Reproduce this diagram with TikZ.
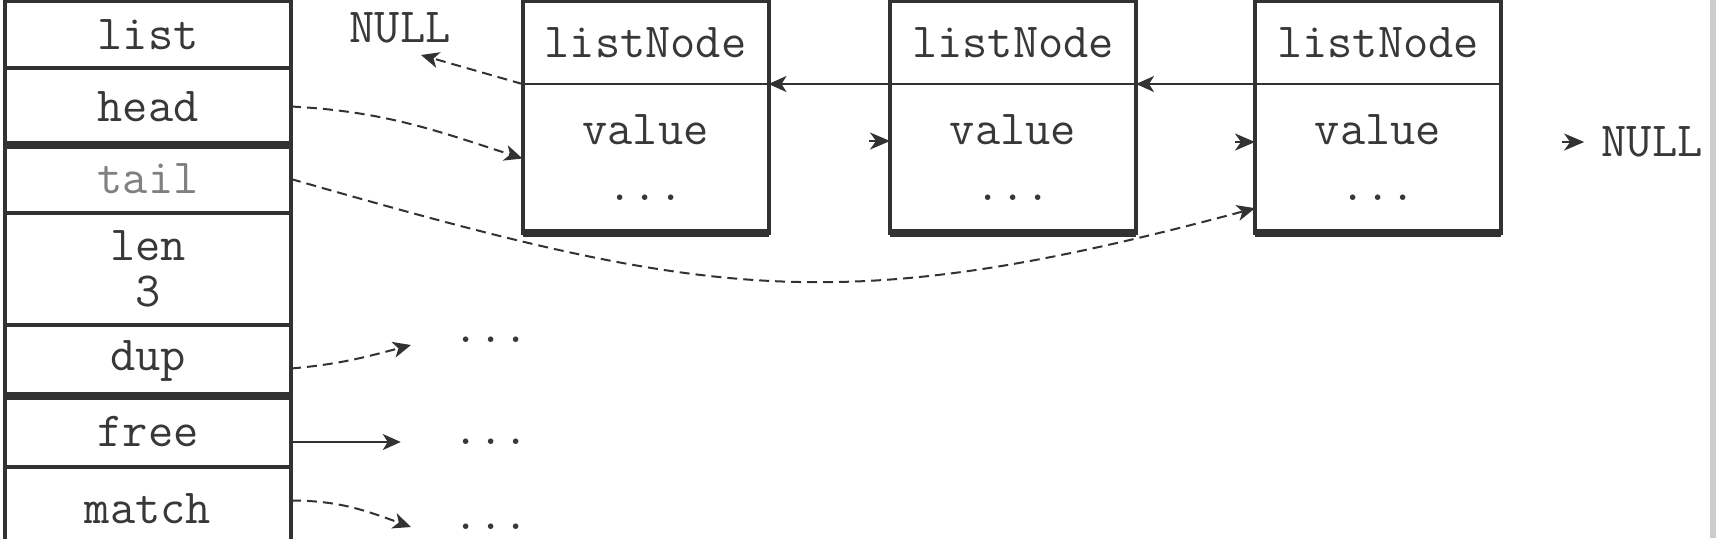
\documentclass[tikz,border=0pt]{standalone}
\usepackage{fontspec}
\usepackage{tikz}
\usetikzlibrary{arrows.meta,shapes,positioning}
\definecolor{ink}{HTML}{323232}
\definecolor{txtgray}{HTML}{383838}
\tikzstyle{row}=[draw=ink, line width=2pt, rectangle, minimum width=143pt, inner sep=0pt, outer sep=0pt, align=center]
\tikzstyle{hdr}=[rectangle, minimum width=123pt, minimum height=41.5pt, inner sep=0pt, outer sep=0pt]
\tikzstyle{bdy}=[rectangle, minimum width=123pt, minimum height=74.5pt, inner sep=0pt, outer sep=0pt]
\tikzstyle{txt}=[inner sep=2pt]
\tikzstyle{boxline}=[draw=ink, line width=2pt]
\tikzstyle{sepline}=[draw=ink, line width=1pt]
\tikzstyle{thickline}=[draw=ink, line width=4pt]
\tikzstyle{ptr}=[draw=ink, line width=1pt, dash pattern=on 5pt off 3pt, -{Stealth[length=9pt,width=8pt,inset=2.5pt]}]
\tikzstyle{prev}=[draw=ink, line width=1pt, -{Stealth[length=9pt,width=8pt,inset=2.5pt]}]
\tikzstyle{stub}=[draw=ink, line width=1pt, -{Stealth[length=10pt,width=8.5pt,inset=3pt]}]

\begin{document}
\begin{tikzpicture}[x=0.5pt, y=0.5pt,
	every node/.style={text=txtgray, font=\ttfamily\fontsize{24.5pt}{23pt}\selectfont}]
		\useasboundingbox (0,0) rectangle (1716,-538);
		\fill[white] (0,0) rectangle (1716,-538);
		\fill[gray!40] (1710,0) rectangle (1716,-538);
		
		% the list struct, one row per field
		\foreach \y/\h/\name/\lbl/\col in {
			34.5/33.5/list/list/txtgray, 106.5/38.5/head/head/txtgray,
			179/34/tail/tail/black!50, 269/56/len/{len\\3}/txtgray,
			360.5/35.5/dup/dup/txtgray, 431.5/35.5/free/free/txtgray,
			508.5/41.5/match/match/txtgray}
		\node[row, minimum height=\h pt, text=\col] (\name) at (148,-\y) {\lbl};
		\draw[thickline] (head.south west) -- (head.south east);
		\draw[thickline] (dup.south west) -- (dup.south east);
		
		% the three listNodes
		\foreach \x/\i in {645.5/1, 1013/2, 1378/3} {
			\node[hdr] (h\i) at (\x,-42.5) {listNode};
			\node[bdy, below=0pt of h\i] (b\i) {};
			\node[txt] (v\i) at (\x,-130) {value};
			\node[txt] (d\i) at (\x,-198) {...};
			\draw[boxline] (h\i.north west) rectangle (b\i.south east);
			\draw[sepline] (h\i.south west) -- (h\i.south east);
			\draw[thickline] (b\i.south west) -- (b\i.south east);
		}
		
		\node[txt] (nl) at (400,-28) {NULL};
		\node[txt] (nr) at (1652,-142) {NULL};
		\foreach \pos/\i in {(491,-340)/1, (491,-442)/2, (491,-527)/3}
		\node[txt] (dd\i) at \pos {...};
		\coordinate (nlp) at (421,-55);
		\coordinate (s2) at (869,-141);
		\coordinate (s3) at (1235,-142);
		\coordinate (s4) at (1548,-142);
		\coordinate (e1) at (411,-345);
		\coordinate (e3) at (411,-527);
		
		% prev and next pointers
		\draw[ptr] (h1.south west) -- (nlp);
		\draw[prev] (h2.south west) -- (h1.south east);
		\draw[prev] (h3.south west) -- (h2.south east);
		\draw[stub] (s2) -- (s2 -| b2.west);
		\draw[stub] (s3) -- (s3 -| b3.west);
		\draw[stub, shorten <=7pt, shorten >=6.5pt] (s4) -- (s4 -| nr.west);
		
		% pointers out of the list struct
		\draw[ptr] (head.east) to[out=-3, in=162] (b1.west);
		\draw[ptr] (tail.east) to[out=-16, in=195, looseness=1.15] (b3.202);
		\draw[ptr] ([yshift=-4pt]dup.east) to[out=5, in=195] (e1);
		\draw[prev, shorten >=24pt] (free.east |- dd2.west) -- (dd2.west);
		\draw[ptr] ([yshift=4pt]match.east) to[out=0, in=160] (e3);
\end{tikzpicture}
\end{document}
